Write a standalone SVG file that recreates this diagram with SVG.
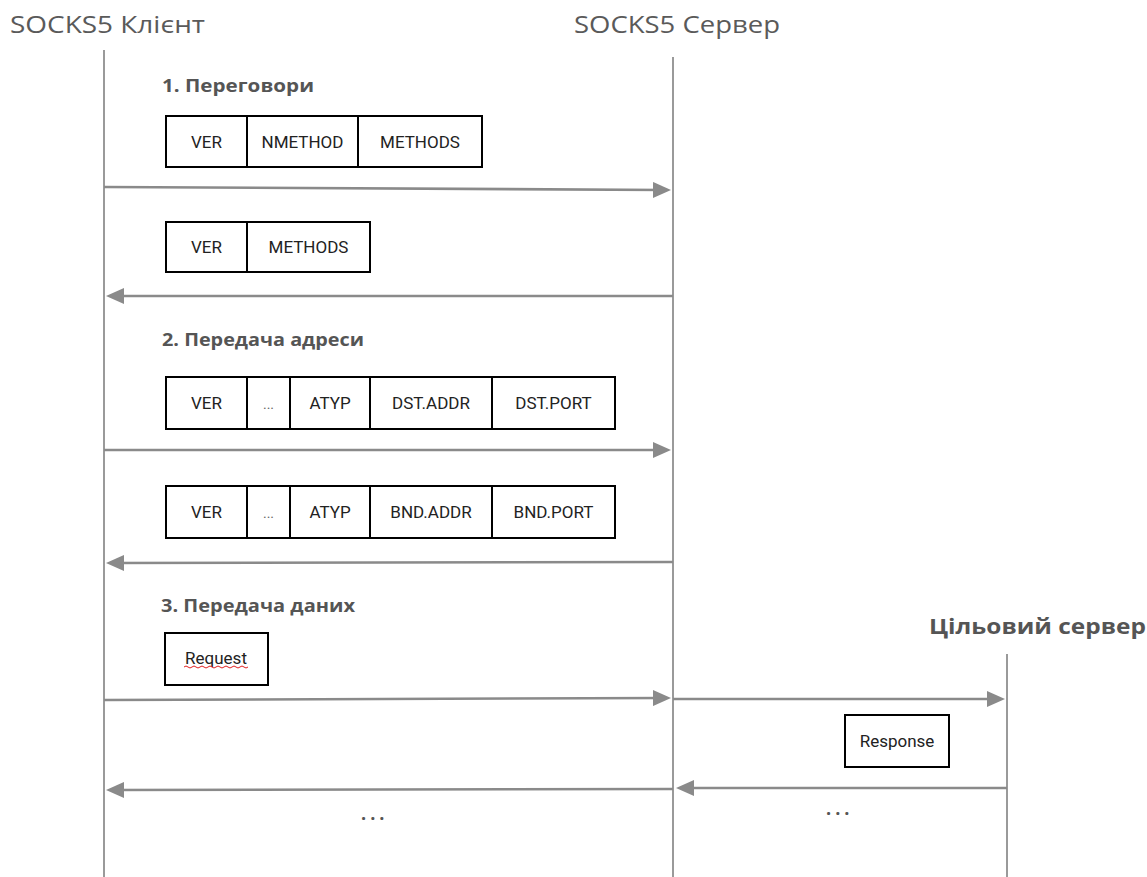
<svg xmlns="http://www.w3.org/2000/svg" width="1147" height="877" viewBox="0 0 1147 877">
  <defs>
    <marker id="head" viewBox="0 0 18 16" refX="12" refY="8" markerWidth="18" markerHeight="16" markerUnits="userSpaceOnUse" orient="auto">
      <path d="M0,0 L18,8 L0,16 Z" fill="#8a8a8a"/>
    </marker>
  </defs>
  <style>
    .title { font-family: "Open Sans", "Noto Sans", sans-serif; font-size: 23px; fill: #5a5a5a; }
    .title-b { font-family: "Open Sans", "Noto Sans", sans-serif; font-size: 21px; font-weight: bold; fill: #555; }
    .phase { font-family: "Open Sans", "Noto Sans", sans-serif; font-size: 17px; font-weight: bold; fill: #555; }
    .life { stroke: #9a9a9a; stroke-width: 2; fill: none; }
    .msg { stroke: #8a8a8a; stroke-width: 2.6; fill: none; marker-end: url(#head); }
    .cell { fill: #fff; stroke: #000; stroke-width: 2; }
    .div { stroke: #000; stroke-width: 2; }
    .lbl { font-family: Roboto, "Liberation Sans", sans-serif; font-size: 17px; fill: #222; text-anchor: middle; }
    .gap { font-family: Roboto, "Liberation Sans", sans-serif; font-size: 14px; fill: #666; text-anchor: middle; }
    .dots { font-family: "Open Sans", "Noto Sans", sans-serif; font-size: 18px; font-weight: bold; fill: #555; letter-spacing: 4px; }
  </style>
  <rect width="1147" height="877" fill="#fff"/>

  <!-- participants -->
  <g id="client">
    <text class="title" x="10" y="33" textLength="195" lengthAdjust="spacingAndGlyphs">SOCKS5 Клієнт</text>
    <line class="life" x1="104" y1="50" x2="104" y2="877"/>
  </g>
  <g id="server">
    <text class="title" x="574" y="33" textLength="206" lengthAdjust="spacingAndGlyphs">SOCKS5 Сервер</text>
    <line class="life" x1="673" y1="57" x2="673" y2="877"/>
  </g>
  <g id="target">
    <text class="title-b" x="929" y="634" textLength="217" lengthAdjust="spacingAndGlyphs">Цільовий сервер</text>
    <line class="life" x1="1007" y1="654" x2="1007" y2="877"/>
  </g>

  <!-- phase headings -->
  <g id="phase1"><text class="phase" x="162" y="92" textLength="152" lengthAdjust="spacingAndGlyphs">1. Переговори</text></g>
  <g id="phase2"><text class="phase" x="162" y="346" textLength="202" lengthAdjust="spacingAndGlyphs">2. Передача адреси</text></g>
  <g id="phase3"><text class="phase" x="161" y="612" textLength="194" lengthAdjust="spacingAndGlyphs">3. Передача даних</text></g>

  <!-- packet layouts -->
  <g id="greeting">
    <rect class="cell" x="166" y="116" width="316" height="51"/>
    <line class="div" x1="247" y1="116" x2="247" y2="167"/>
    <line class="div" x1="358" y1="116" x2="358" y2="167"/>
    <text class="lbl" x="206.5" y="148">VER</text>
    <text class="lbl" x="302.5" y="148">NMETHOD</text>
    <text class="lbl" x="420" y="148">METHODS</text>
  </g>
  <g id="method-reply">
    <rect class="cell" x="166" y="222" width="204" height="50"/>
    <line class="div" x1="247" y1="222" x2="247" y2="272"/>
    <text class="lbl" x="206.5" y="253">VER</text>
    <text class="lbl" x="308.5" y="253">METHODS</text>
  </g>
  <g id="connect-request">
    <rect class="cell" x="166" y="377" width="449" height="52"/>
    <line class="div" x1="247" y1="377" x2="247" y2="429"/>
    <line class="div" x1="290" y1="377" x2="290" y2="429"/>
    <line class="div" x1="370" y1="377" x2="370" y2="429"/>
    <line class="div" x1="492" y1="377" x2="492" y2="429"/>
    <text class="lbl" x="206.5" y="409">VER</text>
    <text class="gap" x="268.5" y="409">...</text>
    <text class="lbl" x="330" y="409">ATYP</text>
    <text class="lbl" x="431" y="409">DST.ADDR</text>
    <text class="lbl" x="553.5" y="409">DST.PORT</text>
  </g>
  <g id="connect-reply">
    <rect class="cell" x="166" y="486" width="449" height="52"/>
    <line class="div" x1="247" y1="486" x2="247" y2="538"/>
    <line class="div" x1="290" y1="486" x2="290" y2="538"/>
    <line class="div" x1="370" y1="486" x2="370" y2="538"/>
    <line class="div" x1="492" y1="486" x2="492" y2="538"/>
    <text class="lbl" x="206.5" y="518">VER</text>
    <text class="gap" x="268.5" y="518">...</text>
    <text class="lbl" x="330" y="518">ATYP</text>
    <text class="lbl" x="431" y="518">BND.ADDR</text>
    <text class="lbl" x="553.5" y="518">BND.PORT</text>
  </g>
  <g id="request">
    <rect class="cell" x="165" y="633" width="103" height="52"/>
    <text class="lbl" x="216" y="664" font-size="15">Request</text>
    <path d="M184,667 q2,-2 4,0 t4,0 t4,0 t4,0 t4,0 t4,0 t4,0 t4,0 t4,0 t4,0 t4,0 t4,0 t4,0 t4,0 t4,0 t4,0" fill="none" stroke="#e02020" stroke-width="1"/>
  </g>
  <g id="response">
    <rect class="cell" x="845" y="715" width="104" height="52"/>
    <text class="lbl" x="897" y="747" font-size="15">Response</text>
  </g>

  <!-- messages -->
  <g id="connectors">
    <line class="msg" x1="104" y1="187" x2="665" y2="190"/>
    <line class="msg" x1="673" y1="296" x2="112" y2="296"/>
    <line class="msg" x1="104" y1="450" x2="665" y2="450"/>
    <line class="msg" x1="673" y1="562" x2="112" y2="563"/>
    <line class="msg" x1="104" y1="700" x2="665" y2="698"/>
    <line class="msg" x1="673" y1="699" x2="999" y2="699"/>
    <line class="msg" x1="1007" y1="788" x2="682" y2="788"/>
    <line class="msg" x1="673" y1="789" x2="112" y2="790"/>
  </g>

  <g id="continuation">
    <text class="dots" x="361" y="820">...</text>
    <text class="dots" x="826" y="815">...</text>
  </g>
</svg>
